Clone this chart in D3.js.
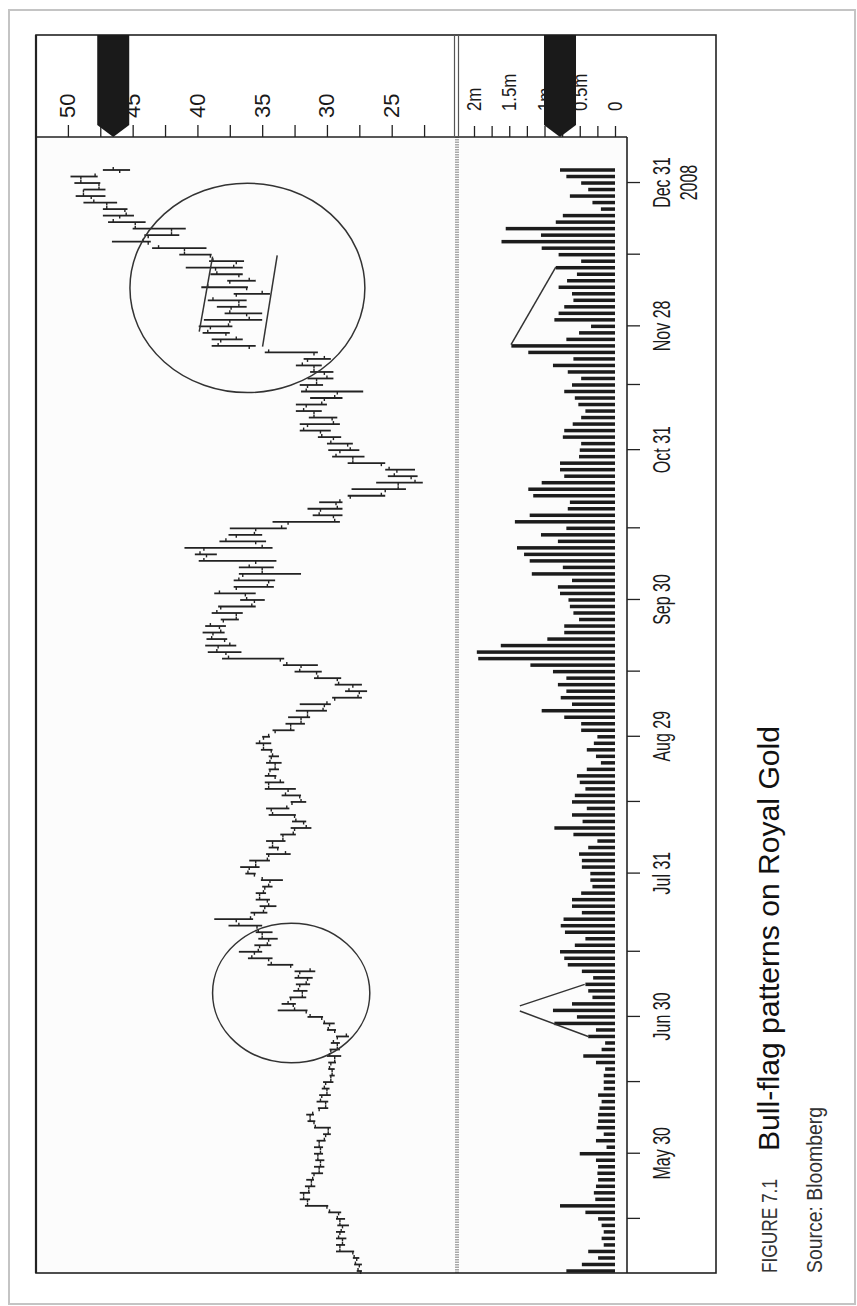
<!DOCTYPE html>
<html><head><meta charset="utf-8">
<script src="https://cdn.jsdelivr.net/npm/d3@7"></script>
<style>
html,body{margin:0;padding:0;background:#fff;}
svg{display:block;}
</style></head><body>
<svg id="chart" width="857" height="1306"></svg>
<script>
// ---------------- DATA ----------------
const firstDay = "2008-05-05";
const lastDay = "2009-01-05";
const holidays = ["2008-05-26","2008-07-04","2008-09-01","2008-11-27","2008-12-25","2009-01-01"];

const highs = [27.7,27.9,28.0,29.3,29.3,29.3,29.3,29.2,29.3,29.9,
31.7,32.1,32.1,31.7,31.6,31.2,31.0,30.9,31.0,31.0,
30.8,30.3,31.0,31.5,31.6,30.7,30.8,30.6,30.4,30.3,
29.8,29.9,29.9,30.0,29.8,29.7,29.3,30.0,30.3,31.5,
33.8,33.5,32.9,32.6,32.4,32.5,32.5,34.6,36.1,36.8,
35.6,35.3,35.5,37.6,38.7,35.9,35.2,35.5,35.5,35.0,
35.1,36.3,36.7,36.0,34.7,34.5,34.7,33.6,32.8,32.7,
34.5,34.7,32.8,33.5,34.8,34.8,34.8,34.5,34.7,34.5,
35.1,35.5,35.0,34.2,33.2,33.0,32.4,32.1,29.6,28.6,
29.4,31.0,32.5,33.4,38.1,39.2,39.4,39.3,39.6,39.4,
38.2,38.9,38.4,36.7,38.7,37.2,37.2,36.8,36.8,39.9,
40.2,41.0,38.3,37.6,37.5,34.2,31.1,31.5,30.6,28.4,
28.1,26.2,25.3,25.5,28.4,29.6,29.9,30.0,30.7,32.1,
32.1,31.4,32.4,32.4,31.3,32.0,32.1,31.5,31.3,32.4,
31.8,34.8,38.9,38.9,39.6,39.9,39.5,37.9,38.5,39.2,
37.2,39.7,37.7,39.0,40.9,39.1,41.4,43.5,46.6,44.1,
45.0,46.9,47.3,47.3,48.8,49.4,48.8,49.5,49.8,47.3];

const lows = [27.3,27.3,27.5,27.9,28.6,28.5,28.6,28.3,28.6,28.9,
29.9,31.3,31.3,30.9,31.0,30.3,30.2,30.2,30.3,30.3,
30.1,29.7,29.7,30.9,31.0,29.9,29.9,29.7,29.8,29.5,
29.4,29.4,29.3,28.9,29.0,29.0,28.3,29.3,29.4,30.3,
31.5,32.4,31.6,31.5,31.3,31.1,30.9,32.6,34.2,35.0,
34.3,33.8,34.2,35.0,35.7,34.6,33.9,34.4,34.7,34.2,
33.4,35.5,35.2,34.4,32.8,33.7,33.2,32.4,31.2,31.6,
32.4,32.9,31.6,32.0,32.4,33.3,33.9,33.7,33.5,33.7,
34.2,34.3,34.4,32.5,31.7,31.3,30.0,29.7,27.3,26.9,
27.3,28.9,30.4,30.7,33.3,36.6,37.0,37.7,37.9,37.8,
36.8,36.5,35.5,34.8,35.5,34.1,34.0,32.0,34.1,33.9,
38.5,34.2,34.7,35.0,33.1,29.0,28.8,28.8,28.8,25.5,
23.9,22.6,23.0,23.2,25.5,27.1,27.5,28.0,28.9,29.7,
29.0,29.2,30.4,30.0,28.8,27.2,30.3,29.5,29.5,30.4,
29.7,30.7,35.5,36.5,37.5,37.3,35.0,35.0,36.2,36.2,
34.4,36.1,35.5,36.5,36.5,36.4,38.9,39.3,43.6,41.4,
40.9,44.0,44.9,45.4,46.2,47.1,47.1,47.5,47.7,45.2];

const opens = [27.4,27.5,27.7,28.0,29.0,28.8,29.0,28.8,29.0,29.1,
30.0,31.5,31.8,31.4,31.2,31.0,30.6,30.5,30.7,30.5,
30.6,30.1,29.9,31.0,31.3,30.6,30.1,30.4,30.0,30.1,
29.7,29.6,29.7,29.4,29.7,29.2,29.2,29.4,29.8,30.4,
31.6,32.6,32.8,31.9,32.1,31.5,32.1,32.8,34.5,35.6,
35.2,34.5,35.0,35.4,37.0,35.6,34.8,34.6,35.2,34.8,
34.4,35.6,36.0,35.5,34.5,33.8,34.2,33.4,32.5,31.8,
32.5,34.3,32.7,32.1,33.0,34.5,34.0,34.4,34.0,34.3,
34.3,34.9,34.9,34.0,32.8,32.0,31.5,30.2,29.4,27.5,
28.0,29.2,30.8,32.0,33.6,37.8,38.4,37.9,38.8,38.3,
38.0,37.0,38.2,35.6,36.3,37.0,34.5,36.5,35.0,35.5,
39.3,39.5,35.5,37.0,35.5,33.0,29.5,30.5,29.3,28.2,
25.5,24.5,23.5,24.6,25.8,28.0,29.0,28.4,29.5,30.5,
31.5,29.6,31.0,31.6,30.2,29.2,31.5,30.8,30.2,31.0,
31.5,31.0,36.0,38.2,37.8,39.0,37.5,36.2,37.4,36.8,
37.0,36.2,37.5,36.8,38.6,37.0,39.0,41.0,43.8,43.8,
42.0,44.8,46.0,45.6,47.0,48.2,48.8,47.6,49.0,46.0];

const closes = [27.6,27.8,27.9,29.0,28.8,29.1,28.9,29.0,29.2,29.8,
31.5,31.8,31.4,31.2,31.1,30.6,30.5,30.7,30.5,30.6,
30.2,29.9,30.9,31.3,31.1,30.1,30.5,30.0,30.2,29.7,
29.6,29.8,29.4,29.8,29.2,29.5,28.5,29.9,30.2,31.3,
32.5,33.0,31.9,32.2,31.6,32.2,31.3,34.3,35.8,35.3,
34.6,35.0,35.3,36.8,35.9,34.9,34.5,35.2,34.9,34.5,
35.0,36.1,35.5,34.6,33.2,34.2,33.4,32.6,31.6,32.4,
34.2,33.1,32.0,33.2,34.5,33.6,34.5,34.0,34.4,34.2,
34.9,35.2,34.5,32.8,32.0,31.5,30.3,30.0,27.6,28.3,
29.1,30.7,32.1,33.1,37.6,38.5,37.5,38.9,38.2,39.0,
37.0,38.5,35.8,36.2,38.3,34.6,36.8,35.0,36.0,39.5,
39.8,35.0,37.8,35.6,33.5,29.4,30.6,29.2,29.0,25.8,
24.5,23.2,24.8,25.2,28.0,29.3,28.2,29.7,30.4,31.8,
29.5,31.0,31.8,30.4,29.4,31.6,30.8,30.0,31.0,31.9,
30.2,34.5,38.4,37.0,39.2,37.6,36.0,37.5,36.8,38.8,
35.0,39.2,36.0,38.5,37.2,38.8,41.0,43.0,44.2,42.0,
44.8,46.5,45.5,47.0,48.0,48.8,47.6,49.0,47.9,46.5];

// volume in millions of shares
const volumes = [0.69,0.47,0.24,0.38,0.16,0.19,0.16,0.19,0.24,0.42,
0.78,0.28,0.30,0.27,0.24,0.25,0.24,0.27,0.50,0.12,
0.27,0.16,0.26,0.24,0.24,0.22,0.19,0.24,0.16,0.16,
0.16,0.14,0.27,0.45,0.19,0.14,0.38,0.27,0.86,0.54,
0.88,0.61,0.32,0.38,0.42,0.31,0.47,0.67,0.72,0.78,
0.57,0.42,0.71,0.77,0.73,0.47,0.61,0.61,0.48,0.32,
0.35,0.35,0.47,0.47,0.51,0.38,0.25,0.59,0.86,0.46,
0.61,0.40,0.61,0.57,0.42,0.50,0.54,0.40,0.20,0.27,
0.40,0.30,0.25,0.48,0.48,0.72,1.04,0.61,0.77,0.69,
0.81,0.69,0.88,1.20,1.94,1.96,1.62,0.96,0.72,0.72,
0.51,0.59,0.64,0.66,0.78,0.81,0.61,1.18,0.74,1.21,
1.29,1.39,0.81,1.05,0.69,1.42,1.21,0.67,0.64,1.16,
1.23,1.04,0.72,0.78,0.78,0.51,0.50,0.48,0.74,0.72,
0.60,0.48,0.42,0.52,0.57,0.72,0.61,0.48,0.67,0.88,
0.59,1.23,1.47,0.69,0.51,0.34,0.86,0.80,0.72,0.59,
0.61,0.80,0.68,0.54,0.84,0.48,0.80,1.04,1.61,1.05,
1.55,0.84,0.74,0.20,0.32,0.64,0.38,0.48,0.69,0.78];

const priceTicks = [22.5,25,27.5,30,32.5,35,37.5,40,42.5,45,47.5,50,52.5];
const priceLabelled = [25,30,35,40,45,50];
const volumeTicks = [0,0.25,0.5,0.75,1,1.25,1.5,1.75,2];
const volumeLabelled = [0,0.5,1,1.5,2];
const volumeLabelText = ["0","0.5m","1m","1.5m","2m"];

const minorDateTicks = ["2008-05-15","2008-06-16","2008-07-15","2008-08-15","2008-09-15","2008-10-15","2008-11-14","2008-12-15"];
const labelDates = ["2008-05-30","2008-06-30","2008-07-31","2008-08-29","2008-09-30","2008-10-31","2008-11-28","2008-12-31"];
const labelTexts = ["May 30","Jun 30","Jul 31","Aug 29","Sep 30","Oct 31","Nov 28","Dec 31"];
const yearLabel = "2008";

// annotations (day index, price / volume)
const priceCircles = [
  {day: 150.9, price: 36.14, rDays: 16.07, rPrice: 9.07},
  {day: 42.66, price: 32.76, rDays: 10.7, rPrice: 6.07}
];
const priceFlagLines = [
  [{day: 144.2, price: 39.86}, {day: 155.7, price: 38.83}],
  [{day: 141.9, price: 34.97}, {day: 155.9, price: 33.84}]
];
const volumeFlagLines = [
  [{day: 154.1, vol: 0.84}, {day: 142.2, vol: 1.475}],
  [{day: 44.0, vol: 0.43}, {day: 40.7, vol: 1.35}],
  [{day: 39.9, vol: 1.35}, {day: 36.0, vol: 0.38}]
];

const captionNumber = "FIGURE 7.1";
const captionTitle = "Bull-flag patterns on Royal Gold";
const captionSource = "Source: Bloomberg";

// ---------------- BUILD ----------------
const FONT = "'Liberation Sans', Arial, Helvetica, sans-serif";
const fmt = d3.timeFormat("%Y-%m-%d");
const parse = d3.timeParse("%Y-%m-%d");
const dates = [];
for (let d = parse(firstDay); d <= parse(lastDay); d = d3.timeDay.offset(d, 1)) {
  const dow = d.getDay();
  const s = fmt(d);
  if (dow === 0 || dow === 6 || holidays.includes(s)) continue;
  dates.push(s);
}
const N = Math.min(dates.length, highs.length);
const bars = d3.range(N).map(i => ({i, date: dates[i], h: highs[i], l: lows[i], o: opens[i], c: closes[i], v: volumes[i]}));
const idxOf = s => dates.indexOf(s);

function condense(sel, factor) {
  sel.each(function() {
    const len = this.getComputedTextLength();
    if (len > 0) d3.select(this).attr("textLength", len * factor).attr("lengthAdjust", "spacingAndGlyphs");
  });
}

const svg = d3.select("#chart");
svg.append("rect").attr("x", 9).attr("y", 10).attr("width", 846).attr("height", 1294)
  .attr("fill", "#fff").attr("stroke", "#c4c4c4").attr("stroke-width", 2);

// rotated frame: (u, v) -> screen (v, 1306 - u)
const g = svg.append("g").attr("transform", "translate(0,1306) rotate(-90)");

const U0 = 33, U1 = 1169, UTOP = 1271;
const V0 = 36, VSEP = 457, VR = 627, VBOX = 716;

const x = d3.scaleLinear().domain([0, 169]).range([35, 1136]);
const yP = d3.scaleLinear().domain([25, 50]).range([391.7, 67.9]);
const yV = d3.scaleLinear().domain([0, 2]).range([615, 474]);

g.append("rect").attr("x", U0).attr("y", V0).attr("width", U1 - U0).attr("height", VR - V0).attr("fill", "#fcfcfc");

g.append("line").attr("x1", U0).attr("x2", U1).attr("y1", VSEP).attr("y2", VSEP)
  .attr("stroke", "#a8a8a8").attr("stroke-width", 4).attr("stroke-dasharray", "1.5,1");

// volume bars
g.append("g").selectAll("rect").data(bars).join("rect")
  .attr("x", d => x(d.i) - 1.75).attr("width", 3.5)
  .attr("y", d => yV(d.v)).attr("height", d => yV(0) - yV(d.v))
  .attr("fill", "#1c1c1c");

// price OHLC bars
const pb = g.append("g").attr("stroke", "#222").attr("fill", "none");
pb.selectAll("line.hl").data(bars).join("line").attr("class", "hl")
  .attr("x1", d => x(d.i)).attr("x2", d => x(d.i))
  .attr("y1", d => yP(d.h)).attr("y2", d => yP(d.l)).attr("stroke-width", 1.8);
pb.selectAll("line.op").data(bars).join("line").attr("class", "op")
  .attr("x1", d => x(d.i) - 3).attr("x2", d => x(d.i))
  .attr("y1", d => yP(d.o)).attr("y2", d => yP(d.o)).attr("stroke-width", 1.4);
pb.selectAll("line.cl").data(bars).join("line").attr("class", "cl")
  .attr("x1", d => x(d.i)).attr("x2", d => x(d.i) + 3)
  .attr("y1", d => yP(d.c)).attr("y2", d => yP(d.c)).attr("stroke-width", 1.4);

// annotations
const ann = g.append("g").attr("fill", "none").attr("stroke", "#333").attr("stroke-width", 1.5);
ann.selectAll("ellipse").data(priceCircles).join("ellipse")
  .attr("cx", d => x(d.day)).attr("cy", d => yP(d.price))
  .attr("rx", d => x(d.day + d.rDays) - x(d.day))
  .attr("ry", d => yP(d.price - d.rPrice) - yP(d.price));
const lp = d3.line().x(d => x(d.day)).y(d => yP(d.price));
ann.selectAll("path.pf").data(priceFlagLines).join("path").attr("class", "pf").attr("d", lp);
const lv = d3.line().x(d => x(d.day)).y(d => yV(d.vol));
ann.selectAll("path.vf").data(volumeFlagLines).join("path").attr("class", "vf").attr("d", lv);

// frame lines
const frame = g.append("g").attr("stroke", "#222").attr("fill", "none");
frame.append("rect").attr("x", U0).attr("y", V0).attr("width", UTOP - U0).attr("height", VBOX - V0).attr("stroke-width", 1.6);
frame.append("line").attr("x1", U0).attr("x2", UTOP).attr("y1", V0).attr("y2", V0).attr("stroke-width", 2.2);
frame.append("line").attr("x1", U1).attr("x2", U1).attr("y1", V0).attr("y2", VR).attr("stroke-width", 1.6);
frame.append("line").attr("x1", U0).attr("x2", U1).attr("y1", VR).attr("y2", VR).attr("stroke-width", 1.6);
frame.append("line").attr("x1", U1).attr("x2", UTOP).attr("y1", 454.5).attr("y2", 454.5).attr("stroke-width", 1.2).attr("stroke", "#555");
frame.append("line").attr("x1", U1).attr("x2", UTOP).attr("y1", 458.5).attr("y2", 458.5).attr("stroke-width", 1.2).attr("stroke", "#555");

// price axis
const pAxis = g.append("g").attr("transform", `translate(${U1},0)`)
  .call(d3.axisRight(yP).tickValues(priceTicks).tickSize(12).tickPadding(7)
    .tickFormat(d => priceLabelled.includes(d) ? d3.format("d")(d) : ""));
pAxis.select(".domain").remove();
pAxis.selectAll(".tick line").attr("stroke", "#222").attr("stroke-width", 1.3);
pAxis.selectAll(".tick text").attr("font-family", FONT).attr("font-size", 22).attr("fill", "#1a1a1a");

// volume axis
const vAxis = g.append("g").attr("transform", `translate(${U1},0)`)
  .call(d3.axisRight(yV).tickValues(volumeTicks).tickSize(11).tickPadding(15)
    .tickFormat(d => { const k = volumeLabelled.indexOf(d); return k >= 0 ? volumeLabelText[k] : ""; }));
vAxis.select(".domain").remove();
vAxis.selectAll(".tick line").attr("stroke", "#222").attr("stroke-width", 1.3);
vAxis.selectAll(".tick text").attr("font-family", FONT).attr("font-size", 21).attr("fill", "#1a1a1a")
  .call(condense, 0.8);

// last-value markers
const marker = v => [[UTOP, v - 16], [U1 + 12, v - 16], [U1, v], [U1 + 12, v + 16], [UTOP, v + 16]];
g.append("polygon").attr("points", marker(yP(closes[N - 1])).join(" ")).attr("fill", "#1a1a1a");
g.append("polygon").attr("points", marker(yV(volumes[N - 1])).join(" ")).attr("fill", "#1a1a1a");

// time axis
const labelIdx = labelDates.map(idxOf);
const tickIdx = minorDateTicks.map(idxOf).concat(labelIdx).sort((a, b) => a - b);
const tAxis = g.append("g").attr("transform", `translate(0,${VR})`)
  .call(d3.axisBottom(x).tickValues(tickIdx).tickSize(13).tickPadding(13)
    .tickFormat(d => { const k = labelIdx.indexOf(d); return k >= 0 ? labelTexts[k] : ""; }));
tAxis.select(".domain").remove();
tAxis.selectAll(".tick line").attr("stroke", "#222").attr("stroke-width", 1.3);
tAxis.selectAll(".tick text").attr("font-family", FONT).attr("font-size", 23.5).attr("fill", "#1a1a1a")
  .call(condense, 0.68);
// year under the last label
const lastTick = tAxis.selectAll(".tick").filter(d => d === labelIdx[labelIdx.length - 1]);
lastTick.append("text").attr("fill", "#1a1a1a").attr("font-family", FONT).attr("font-size", 23.5)
  .attr("y", 53).attr("dy", "0.71em").attr("text-anchor", "middle").attr("x", 0)
  .text(yearLabel).call(condense, 0.68);

// caption
const cap = g.append("g").attr("font-family", FONT);
cap.append("text").attr("x", 33).attr("y", 777).attr("font-size", 22).attr("fill", "#333")
  .text(captionNumber).attr("textLength", 94).attr("lengthAdjust", "spacingAndGlyphs");
cap.append("text").attr("x", 155).attr("y", 779).attr("font-size", 29).attr("fill", "#111")
  .text(captionTitle).attr("textLength", 425).attr("lengthAdjust", "spacingAndGlyphs");
cap.append("text").attr("x", 33).attr("y", 822).attr("font-size", 22).attr("fill", "#333")
  .text(captionSource).attr("textLength", 166).attr("lengthAdjust", "spacingAndGlyphs");
</script>
</body></html>
